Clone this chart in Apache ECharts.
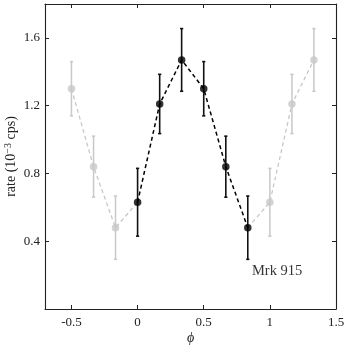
<!DOCTYPE html>
<html><head><meta charset="utf-8">
<script src="https://cdn.jsdelivr.net/npm/echarts@6/dist/echarts.min.js"></script>
<style>html,body{margin:0;padding:0;background:#fff}#c{width:346px;height:345px}</style>
</head><body><div id="c"></div>
<script>
// Data
const blackPhase = [0, 0.167, 0.333, 0.5, 0.667, 0.833];
const blackRate  = [0.63, 1.21, 1.47, 1.30, 0.84, 0.48];
const blackErr   = [0.20, 0.175, 0.185, 0.16, 0.18, 0.187];
const greyLeftPhase  = [-0.5, -0.333, -0.167];
const greyLeftRate   = [1.30, 0.84, 0.48];
const greyLeftErr    = [0.16, 0.18, 0.187];
const greyRightPhase = [1.0, 1.167, 1.333];
const greyRightRate  = [0.63, 1.21, 1.47];
const greyRightErr   = [0.20, 0.175, 0.185];
const xTickLabels = [-0.5, 0, 0.5, 1, 1.5];
const yTickLabels = [0.4, 0.8, 1.2, 1.6];
const annotation = {text: 'Mrk 915', x: 1.055, y: 0.222};

const FONT = 'Liberation Serif';
const BLACK = '#000';
const GREY = '#c8c8c8';

function pts(px, py){ return px.map((x,i)=>[x, py[i]]); }
function errData(px, py, pe){ return px.map((x,i)=>[x, py[i]-pe[i], py[i]+pe[i]]); }

function errSeries(data, color, width){
  return {
    type: 'custom', xAxisIndex:0, yAxisIndex:0, data: data, z: 3,
    renderItem: function(params, api){
      const x = api.value(0), lo = api.value(1), hi = api.value(2);
      const a = api.coord([x, lo]), b = api.coord([x, hi]);
      const c = 1.6;
      const st = {stroke: color, lineWidth: width};
      return {type:'group', children:[
        {type:'line', shape:{x1:a[0],y1:a[1],x2:b[0],y2:b[1]}, style:st},
        {type:'line', shape:{x1:a[0]-c,y1:a[1],x2:a[0]+c,y2:a[1]}, style:st},
        {type:'line', shape:{x1:b[0]-c,y1:b[1],x2:b[0]+c,y2:b[1]}, style:st}
      ]};
    }
  };
}

const blackPts = pts(blackPhase, blackRate);
const greyLeftPts = pts(greyLeftPhase, greyLeftRate);
const greyRightPts = pts(greyRightPhase, greyRightRate);

const axisCommon = {
  axisLine: {show: true, onZero: false, lineStyle: {color: '#222', width: 1.1}},
  axisTick: {show: true, inside: true, length: 4, lineStyle: {color: '#222', width: 1}},
  splitLine: {show: false}
};

const chart = echarts.init(document.getElementById('c'));
chart.setOption({
  animation: false,
  backgroundColor: '#fff',
  grid: {left: 45, right: 10, top: 4, bottom: 36, containLabel: false, outerBoundsMode: 'none'},
  xAxis: [
    Object.assign({type:'value', min:-0.7, max:1.5, minInterval:0.5, maxInterval:0.5, position:'bottom',
      name: 'ϕ', nameLocation:'middle', nameGap: 22, nameMoveOverlap: false,
      nameTextStyle:{fontFamily: FONT, fontStyle:'italic', fontSize: 14, color:'#222'},
      axisLabel:{margin: 7, fontFamily: FONT, fontSize: 13, color:'#222',
        formatter: v => xTickLabels.some(t=>Math.abs(t-v)<1e-6) ? String(v) : ''}}, axisCommon),
    Object.assign({type:'value', min:-0.7, max:1.5, minInterval:0.5, maxInterval:0.5, position:'top',
      axisLabel:{show:false}}, axisCommon)
  ],
  yAxis: [
    Object.assign({type:'value', min:0, max:1.8, interval:0.4, position:'left',
      name: 'rate (10{sup|−3} cps)', nameLocation:'middle', nameGap: 25, nameRotate: 90, nameMoveOverlap: false,
      nameTextStyle:{fontFamily: FONT, fontSize: 14, color:'#222',
        rich:{sup:{fontFamily: FONT, fontSize: 10, color:'#222', padding:[0,0,7,0]}}},
      axisLabel:{margin: 5, fontFamily: FONT, fontSize: 13, color:'#222',
        formatter: v => yTickLabels.some(t=>Math.abs(t-v)<1e-6) ? v.toFixed(1) : ''}}, axisCommon),
    Object.assign({type:'value', min:0, max:1.8, interval:0.4, position:'right',
      axisLabel:{show:false}}, axisCommon)
  ],
  series: [
    {type:'line', data: greyLeftPts.concat([blackPts[0]]), showSymbol:false, z:2,
      lineStyle:{color: GREY, width:1.3, type:[4,3]}},
    {type:'line', data: [blackPts[blackPts.length-1]].concat(greyRightPts), showSymbol:false, z:2,
      lineStyle:{color: GREY, width:1.3, type:[4,3]}},
    errSeries(errData(greyLeftPhase, greyLeftRate, greyLeftErr), GREY, 1.5),
    errSeries(errData(greyRightPhase, greyRightRate, greyRightErr), GREY, 1.5),
    {type:'scatter', data: greyLeftPts.concat(greyRightPts), symbol:'circle', symbolSize:7.5, z:4,
      itemStyle:{color: GREY}},
    {type:'line', data: blackPts, showSymbol:false, z:5,
      lineStyle:{color: BLACK, width:1.5, type:[4,3]}},
    errSeries(errData(blackPhase, blackRate, blackErr), '#111', 1.6),
    {type:'scatter', data: blackPts, symbol:'circle', symbolSize:7.5, z:7, itemStyle:{color: BLACK}},
    {type:'scatter', data:[[annotation.x, annotation.y]], symbolSize:0, z:8, silent:true,
      label:{show:true, position:'inside', formatter: annotation.text,
        fontFamily: FONT, fontSize: 14.5, color:'#000'}}
  ]
});
</script></body></html>
